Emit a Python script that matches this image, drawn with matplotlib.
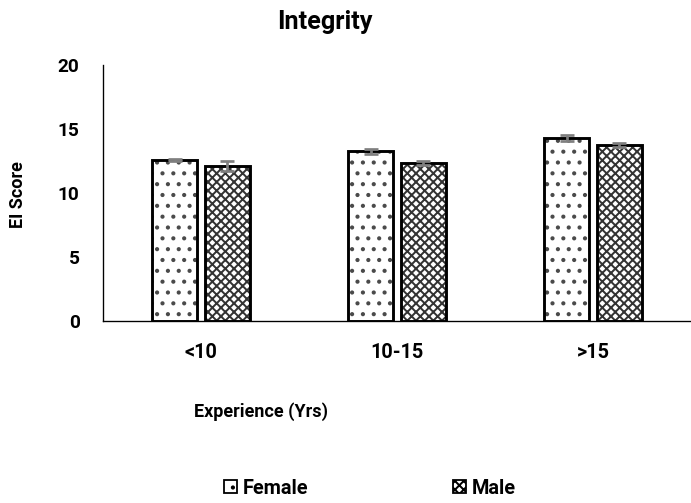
import numpy as np
import matplotlib
matplotlib.use("Agg")
from matplotlib import pyplot as plt
from matplotlib.patches import Patch

# Данные
categories = ["<10", "10-15", ">15"]
female = [12.55, 13.25, 14.3]
male = [12.1, 12.35, 13.75]
female_err = [0.08, 0.22, 0.22]
male_err = [0.42, 0.18, 0.18]

plt.rcParams['font.family'] = ['Roboto', 'DejaVu Sans']
plt.rcParams['hatch.linewidth'] = 1.1

DPI = 130  # подобрано, чтобы шаг штриховки совпадал с оригиналом
W, H = 691, 503
fig = plt.figure(figsize=(W / DPI, H / DPI), dpi=DPI)
ax = fig.add_axes([103 / W, 1 - 321 / H, 588 / W, 256 / H])

x = np.arange(len(categories))
w = 0.23
off = 0.135

# штриховка (серым), затем контур с планками погрешностей
ax.bar(x - off, female, w, color='white', edgecolor='#4a4a4a', linewidth=0, hatch='..')
ax.bar(x + off, male, w, color='white', edgecolor='#333333', linewidth=0, hatch='xxxxx')
ax.bar(x - off, female, w, yerr=female_err, fill=False, edgecolor='black',
       linewidth=1.6, ecolor='#7f7f7f', capsize=4,
       error_kw={'elinewidth': 1.5, 'capthick': 1.5})
ax.bar(x + off, male, w, yerr=male_err, fill=False, edgecolor='black',
       linewidth=1.6, ecolor='#7f7f7f', capsize=4,
       error_kw={'elinewidth': 1.5, 'capthick': 1.5})

ax.set_xlim(-0.5, 2.5)
ax.set_ylim(0, 20)
ax.set_yticks([0, 5, 10, 15, 20])
ax.set_xticks(x)
ax.set_xticklabels(categories)
ax.tick_params(length=0, labelsize=10.5)
ax.tick_params(axis='y', pad=13)
ax.tick_params(axis='x', pad=12)
ax.tick_params(axis='x', labelsize=11)
for lab in ax.get_xticklabels() + ax.get_yticklabels():
    lab.set_fontweight('bold')
ax.spines['top'].set_visible(False)
ax.spines['right'].set_visible(False)
ax.spines['left'].set_linewidth(0.75)
ax.spines['bottom'].set_linewidth(0.75)

fig.text(18 / W, 1 - 195 / H, "EI Score", rotation=90, ha='center', va='center',
         fontsize=10, fontweight='bold')
fig.text(325 / W, 1 - 22 / H, "Integrity", ha='center', va='center',
         fontsize=14, fontweight='bold')
fig.text(261 / W, 1 - 412 / H, "Experience (Yrs)", ha='center', va='center',
         fontsize=10, fontweight='bold')

handles = [Patch(facecolor='white', edgecolor='black', hatch='..', label='Female'),
           Patch(facecolor='white', edgecolor='black', hatch='xxxxx', label='Male')]
fig.legend(handles=handles, loc='center', bbox_to_anchor=(370 / W, 1 - 488 / H),
           ncol=2, frameon=False, prop={'weight': 'bold', 'size': 11},
           columnspacing=7.3, handlelength=0.65, handleheight=0.65, handletextpad=0.3)

fig.savefig("out.png", dpi=DPI)
